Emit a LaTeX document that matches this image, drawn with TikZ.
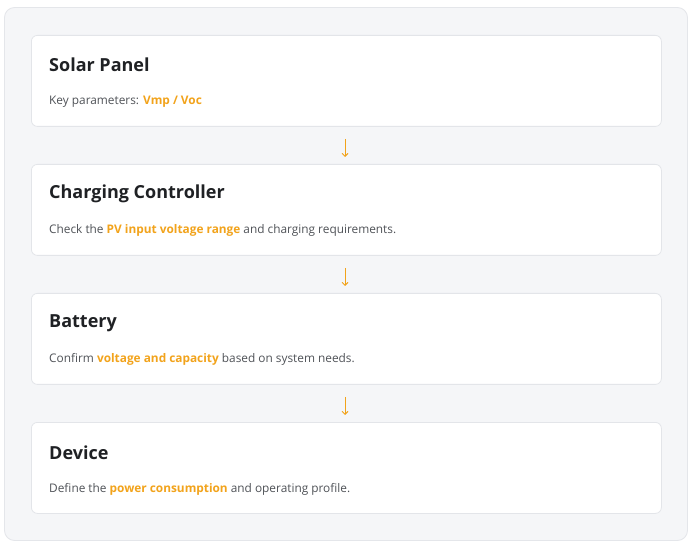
\documentclass[tikz,border=0pt]{standalone}
\usepackage{fontspec}
\setmainfont{Open Sans}
\usetikzlibrary{arrows.meta}
\definecolor{accent}{HTML}{F2A31B}
\definecolor{outerbg}{HTML}{F5F6F8}
\definecolor{outerline}{HTML}{E4E6EA}
\definecolor{cardline}{HTML}{E3E5E9}
\definecolor{titlecol}{HTML}{1F2124}
\definecolor{bodycol}{HTML}{505358}
\newcommand{\hl}[1]{{\color{accent}\bfseries #1}}
\tikzset{
  card/.style={draw=cardline, line width=0.8pt, fill=white, rounded corners=6pt,
    minimum width=630pt, minimum height=91pt, anchor=north west, inner sep=0pt},
  ctitle/.style={anchor=west, inner sep=0pt, font=\fontsize{18}{20}\selectfont\bfseries, text=titlecol},
  cbody/.style={anchor=west, inner sep=0pt, font=\fontsize{11.85}{13}\selectfont, text=bodycol},
  flow/.style={draw=accent, line width=0.9pt, -{Straight Barb[length=3pt,width=6pt]}, shorten <=13pt, shorten >=7pt}
}
\begin{document}
\begin{tikzpicture}[x=1pt,y=-1pt]
\useasboundingbox (0,0) rectangle (697,548);
\fill[white] (0,0) rectangle (697,548);
\draw[outerline, fill=outerbg, line width=0.8pt, rounded corners=10pt] (4.5,7.5) rectangle (687.5,540.5);

\node[card] (c1) at (31,35) {};
\node[card] (c2) at (31,164) {};
\node[card] (c3) at (31,293) {};
\node[card] (c4) at (31,422) {};

\node[ctitle] (t1) at (49,65) {Solar Panel};
\node[cbody] (b1) at (49,101.5) {Key parameters: \hl{Vmp / Voc}};

\node[ctitle] (t2) at (49,194) {Charging Controller};
\node[cbody] (b2) at (49,230.5) {Check the \hl{PV input voltage range} and charging requirements.};

\node[ctitle] (t3) at (49,323) {Battery};
\node[cbody] (b3) at (49,359.5) {Confirm \hl{voltage and capacity} based on system needs.};

\node[ctitle] (t4) at (49,452.5) {Device};
\node[cbody] (b4) at (49,489.5) {Define the \hl{power consumption} and operating profile.};

\coordinate (a1s) at (345,126);
\coordinate (a1e) at (345,164);
\coordinate (a2s) at (345,255);
\coordinate (a2e) at (345,293);
\coordinate (a3s) at (345,384);
\coordinate (a3e) at (345,422);
\draw[flow] (a1s) -- (a1e);
\draw[flow] (a2s) -- (a2e);
\draw[flow] (a3s) -- (a3e);
\end{tikzpicture}
\end{document}
